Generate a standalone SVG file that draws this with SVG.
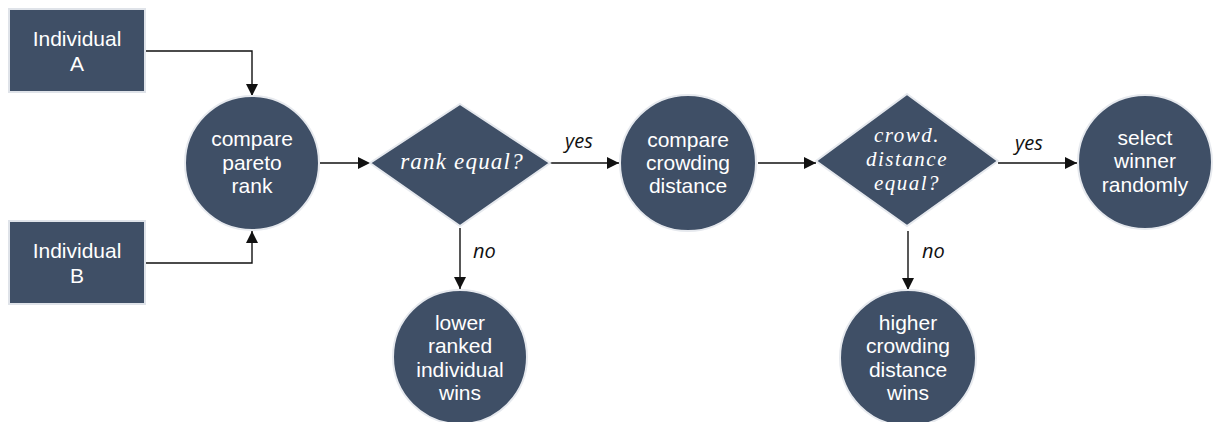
<svg xmlns="http://www.w3.org/2000/svg" width="1214" height="422" viewBox="0 0 1214 422">
  <style>
    .box { fill: #3f4f66; stroke: #dfe3e9; stroke-width: 2; }
    .node { fill: #3f4f66; stroke: #e6e9ee; stroke-width: 2; }
    .txt { font-family: "Liberation Sans", Arial, sans-serif; font-size: 21px; fill: #ffffff; text-anchor: middle; }
    .q { font-family: "Liberation Serif", "Times New Roman", serif; font-style: italic; font-size: 21px; letter-spacing: 1.5px; fill: #ffffff; text-anchor: middle; }
    .lbl { font-family: "Open Sans", "Noto Sans", sans-serif; font-style: italic; font-size: 20px; fill: #111111; }
    .wire { fill: none; stroke: #111111; stroke-width: 1.4; marker-end: url(#arrow); }
  </style>
  <defs>
    <marker id="arrow" viewBox="0 0 12 12" refX="12" refY="6" markerWidth="12" markerHeight="12" markerUnits="userSpaceOnUse" orient="auto">
      <path d="M0,0 L12,6 L0,12 Z" fill="#111111"/>
    </marker>
  </defs>
  <rect width="1214" height="422" fill="#ffffff"/>

  <!-- connectors -->
  <g id="connectors">
    <path class="wire" d="M146,51 H252 V96"/>
    <path class="wire" d="M146,263 H252 V231"/>
    <path class="wire" d="M320,163 H370"/>
    <path class="wire" d="M550,163 H619"/>
    <path class="wire" d="M758,163 H816"/>
    <path class="wire" d="M998,163 H1077"/>
    <path class="wire" d="M460,228 V289"/>
    <path class="wire" d="M908,231 V290"/>
    <text class="lbl" x="565" y="148">yes</text>
    <text class="lbl" x="473" y="258">no</text>
    <text class="lbl" x="1015" y="150">yes</text>
    <text class="lbl" x="922" y="258">no</text>
  </g>

  <!-- inputs -->
  <g id="individual-a">
    <rect class="box" x="9" y="9" width="136" height="83"/>
    <text class="txt" x="77" y="46">Individual</text>
    <text class="txt" x="77" y="71">A</text>
  </g>
  <g id="individual-b">
    <rect class="box" x="9" y="221" width="136" height="83"/>
    <text class="txt" x="77" y="258">Individual</text>
    <text class="txt" x="77" y="283">B</text>
  </g>

  <!-- comparison steps -->
  <g id="compare-rank">
    <circle class="node" cx="252" cy="163" r="67"/>
    <text class="txt" x="252" y="146">compare</text>
    <text class="txt" x="252" y="170">pareto</text>
    <text class="txt" x="252" y="193">rank</text>
  </g>
  <g id="rank-equal">
    <polygon class="node" points="460,104 550,163 460,226 370,163"/>
    <text class="q" x="462" y="169" style="font-size:23px;letter-spacing:1.2px">rank equal?</text>
  </g>
  <g id="compare-crowding">
    <circle class="node" cx="688" cy="163" r="68"/>
    <text class="txt" x="688" y="147">compare</text>
    <text class="txt" x="688" y="170">crowding</text>
    <text class="txt" x="688" y="193">distance</text>
  </g>
  <g id="crowding-equal">
    <polygon class="node" points="907,94 998,161 907,226 816,161"/>
    <text class="q" x="907" y="142">crowd.</text>
    <text class="q" x="907" y="166">distance</text>
    <text class="q" x="907" y="190">equal?</text>
  </g>

  <!-- outcomes -->
  <g id="select-random">
    <circle class="node" cx="1145" cy="162" r="67"/>
    <text class="txt" x="1145" y="145">select</text>
    <text class="txt" x="1145" y="168">winner</text>
    <text class="txt" x="1145" y="192">randomly</text>
  </g>
  <g id="lower-rank-wins">
    <circle class="node" cx="460" cy="357" r="67"/>
    <text class="txt" x="460" y="330">lower</text>
    <text class="txt" x="460" y="353">ranked</text>
    <text class="txt" x="460" y="377">individual</text>
    <text class="txt" x="460" y="400">wins</text>
  </g>
  <g id="higher-crowding-wins">
    <circle class="node" cx="908" cy="358" r="68"/>
    <text class="txt" x="908" y="330">higher</text>
    <text class="txt" x="908" y="353">crowding</text>
    <text class="txt" x="908" y="377">distance</text>
    <text class="txt" x="908" y="400">wins</text>
  </g>
</svg>
